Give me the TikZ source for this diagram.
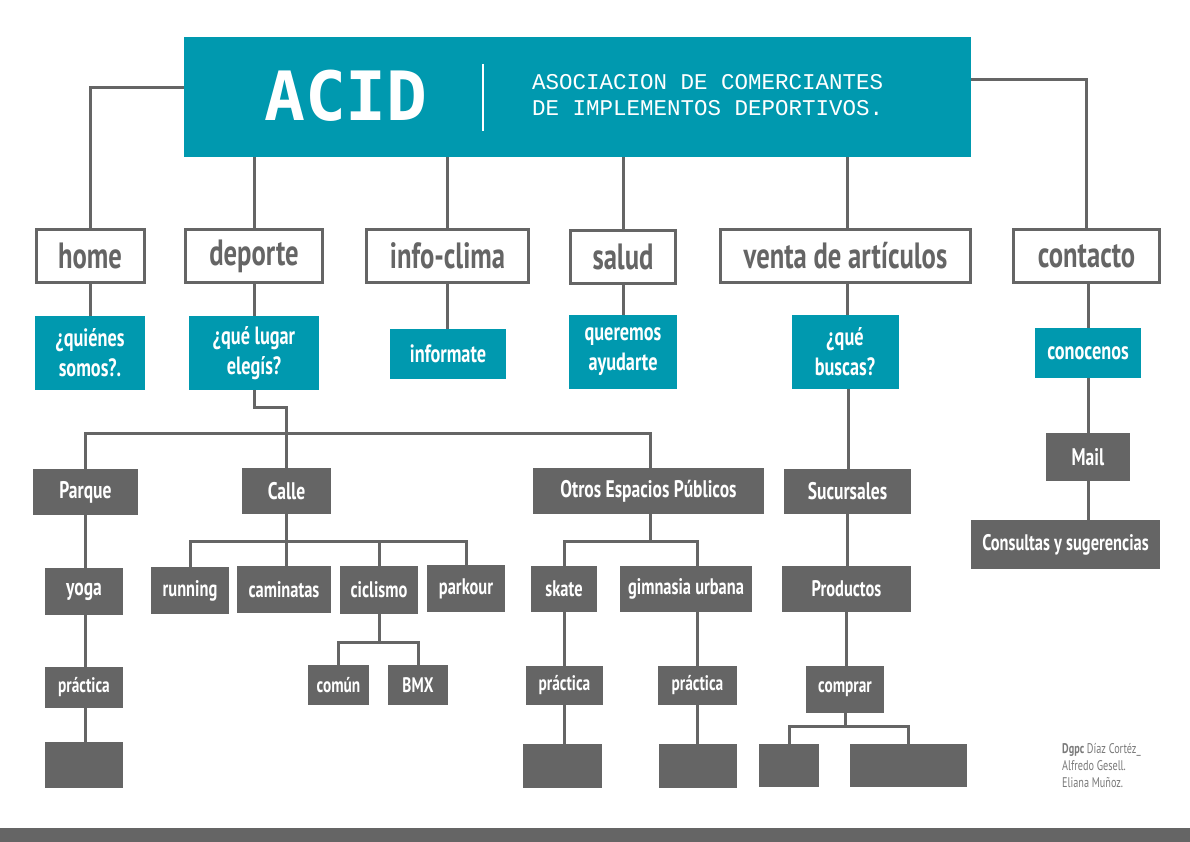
\documentclass[tikz,border=0pt]{standalone}
\usepackage{fontspec}
\setmainfont{PT Sans}[FakeStretch=0.73]
\newfontfamily\acidfont{DejaVu Sans Mono}
\newfontfamily\subfont{Liberation Mono}
\definecolor{acidteal}{HTML}{0099AF}
\definecolor{acidgray}{HTML}{656565}
\definecolor{credgray}{HTML}{7A7A7A}
\tikzset{
  sz/.style 2 args={minimum width=#1pt, minimum height=#2pt},
  wbox/.style={draw=acidgray, line width=3pt, fill=white, text=acidgray, inner sep=0pt,
    font=\fontsize{36.5}{38}\selectfont\bfseries},
  tbox/.style={fill=acidteal, text=white, inner sep=0pt, align=center,
    font=\fontsize{25}{30}\selectfont\bfseries},
  gbox/.style={fill=acidgray, text=white, inner sep=0pt, align=center,
    font=\fontsize{24}{26}\selectfont\bfseries},
  mgbox/.style={gbox, font=\fontsize{22.5}{24}\selectfont\bfseries},
  sgbox/.style={gbox, font=\fontsize{21}{22}\selectfont\bfseries},
  conn/.style={draw=acidgray, line width=3pt}
}
\begin{document}
\begin{tikzpicture}[x=1pt,y=-1pt]
\useasboundingbox (0,0) rectangle (1190,842);
\fill[white] (0,0) rectangle (1190,842);

% header
\node[fill=acidteal, sz={787}{120}, inner sep=0pt] (head) at (577.5,97) {};
\node[text=white, font=\acidfont\bfseries\fontsize{68}{68}\selectfont, inner sep=0pt] (acid) at (346,96) {ACID};
\draw[white, line width=2.5pt] (483,64) -- (483,131);
\node[anchor=west, align=left, text=white, inner sep=0pt,
  font=\subfont\fontsize{22.5}{26}\selectfont] (sub) at (532,95)
  {ASOCIACION DE COMERCIANTES\\DE IMPLEMENTOS DEPORTIVOS.};

% row 1
\node[wbox, sz={108}{52}] (home) at (90,256) {home};
\node[wbox, sz={137}{52}] (deporte) at (254,256) {deporte};
\node[wbox, sz={162}{52}] (clima) at (447.5,256) {info-clima};
\node[wbox, sz={105}{53}] (salud) at (623,257) {salud};
\node[wbox, sz={250}{52}] (venta) at (845.5,256) {venta de artículos};
\node[wbox, sz={146}{52}] (contacto) at (1086.5,256) {contacto};

% row 2
\node[tbox, sz={110}{74}] (quienes) at (90,353) {¿quiénes\\somos?.};
\node[tbox, sz={130}{74}] (lugar) at (254,353) {¿qué lugar\\elegís?};
\node[tbox, sz={116}{50}] (informate) at (448,354) {informate};
\node[tbox, sz={108}{74}] (queremos) at (623,352) {queremos\\ayudarte};
\node[tbox, sz={107}{74}] (buscas) at (845,352) {¿qué\\buscas?};
\node[tbox, sz={106}{50}] (conocenos) at (1088,353) {conocenos};

% row 3
\node[gbox, sz={105}{46}] (parque) at (85.5,492) {Parque};
\node[gbox, sz={89}{46}] (calle) at (286.5,491) {Calle};
\node[gbox, sz={231}{46}] (otros) at (648.5,491) {Otros Espacios Públicos};
\node[gbox, sz={127}{45}] (sucursales) at (847.5,491.5) {Sucursales};
\node[gbox, sz={84}{48}] (mail) at (1088,457) {Mail};
\node[mgbox, sz={189}{49}] (consultas) at (1065.5,544.5) {Consultas y sugerencias};

% row 4
\node[gbox, sz={78}{47}] (yoga) at (84,591.5) {yoga};
\node[mgbox, sz={78}{47}] (running) at (190,590.5) {running};
\node[mgbox, sz={94}{47}] (caminatas) at (284,589.5) {caminatas};
\node[mgbox, sz={78}{48}] (ciclismo) at (379,590) {ciclismo};
\node[mgbox, sz={78}{47}] (parkour) at (466,588.5) {parkour};
\node[mgbox, sz={66}{46}] (skate) at (564,589) {skate};
\node[mgbox, sz={132}{46}] (gimnasia) at (686,589) {gimnasia urbana};
\node[mgbox, sz={129}{46}] (productos) at (846.5,589) {Productos};

% row 5
\node[sgbox, sz={78}{41}] (practica1) at (84,687.5) {práctica};
\node[sgbox, sz={61}{40}] (comun) at (338.5,685) {común};
\node[sgbox, sz={60}{40}] (bmx) at (418,685) {BMX};
\node[sgbox, sz={77}{39}] (practica2) at (564.5,685.5) {práctica};
\node[sgbox, sz={79}{39}] (practica3) at (697.5,685.5) {práctica};
\node[sgbox, sz={78}{47}] (comprar) at (845,689.5) {comprar};

% row 6 (empty boxes)
\node[gbox, sz={78}{46}] (e1) at (84,765) {};
\node[gbox, sz={79}{44}] (e2) at (562.5,766) {};
\node[gbox, sz={78}{44}] (e3) at (698,766) {};
\node[gbox, sz={60}{43}] (e4) at (789,765.5) {};
\node[gbox, sz={117}{43}] (e5) at (908.5,765.5) {};

% bus coordinates
\coordinate (b1) at (0,433);
\coordinate (b2) at (0,541);
\coordinate (b3) at (0,642);
\coordinate (b4) at (0,726);
\coordinate (j1) at (0,407);

% connectors from header
\draw[conn] ([yshift=9pt]head.west) -| (home.north);
\draw[conn] ([yshift=17pt]head.east) -| (contacto.north);
\draw[conn] (deporte.north) -- (deporte.north |- head.south);
\draw[conn] (clima.north) -- (clima.north |- head.south);
\draw[conn] (salud.north) -- (salud.north |- head.south);
\draw[conn] ([xshift=2pt]venta.north) -- ([xshift=2pt]venta.north |- head.south);

% row1 -> row2
\draw[conn] (home.south) -- (home.south |- quienes.north);
\draw[conn] (deporte.south) -- (deporte.south |- lugar.north);
\draw[conn] (clima.south) -- (clima.south |- informate.north);
\draw[conn] (salud.south) -- (salud.south |- queremos.north);
\draw[conn] ([xshift=2pt]venta.south) -- ([xshift=2pt]venta.south |- buscas.north);
\draw[conn] (contacto.south -| conocenos.north) -- (conocenos.north);

% deporte subtree
\draw[conn] (lugar.south) -- (lugar.south |- j1) -- (calle.north |- j1) -- (calle.north);
\draw[conn] (parque.north) -- (parque.north |- b1) -- ([xshift=2pt]otros.north |- b1) -- ([xshift=2pt]otros.north);
\draw[conn] (parque.south) -- (parque.south |- yoga.north);
\draw[conn] (parque.south |- yoga.south) -- (parque.south |- practica1.north);
\draw[conn] (parque.south |- practica1.south) -- (parque.south |- e1.north);

% calle subtree
\draw[conn] (calle.south) -- (calle.south |- caminatas.north);
\draw[conn] (running.north) -- (running.north |- b2) -- (parkour.north |- b2) -- (parkour.north);
\draw[conn] (ciclismo.north) -- (ciclismo.north |- b2);
\draw[conn] (ciclismo.south) -- (ciclismo.south |- b3);
\draw[conn] (comun.north) -- (comun.north |- b3) -- (bmx.north |- b3) -- (bmx.north);

% otros subtree
\draw[conn] ([xshift=2pt]otros.south) -- ([xshift=2pt]otros.south |- b2);
\draw[conn] (skate.north) -- (skate.north |- b2) -- (practica3.north |- b2) -- (practica3.north |- gimnasia.north);
\draw[conn] (skate.south) -- (skate.south |- practica2.north);
\draw[conn] (skate.south |- practica2.south) -- (skate.south |- e2.north);
\draw[conn] (practica3.north |- gimnasia.south) -- (practica3.north);
\draw[conn] (practica3.south) -- (practica3.south |- e3.north);

% venta subtree
\draw[conn] ([xshift=3pt]buscas.south) -- ([xshift=3pt]buscas.south |- sucursales.north);
\draw[conn] (sucursales.south) -- (sucursales.south |- productos.north);
\draw[conn] (productos.south) -- (productos.south |- comprar.north);
\draw[conn] (comprar.south) -- (comprar.south |- b4);
\draw[conn] (e4.north) -- (e4.north |- b4) -- (e5.north |- b4) -- (e5.north);

% contacto subtree
\draw[conn] (conocenos.south) -- (mail.north);
\draw[conn] (mail.south) -- (mail.south |- consultas.north);

% credits
\node[anchor=north west, align=left, inner sep=0pt, text=credgray,
  font=\fontsize{14}{17}\selectfont] (cred) at (1062,743)
  {\textbf{Dgpc} Díaz Cortéz\_\\Alfredo Gesell.\\Eliana Muñoz.};

% bottom bar
\node[fill=acidgray, sz={1190}{14}, inner sep=0pt] (bar) at (595,835) {};
\end{tikzpicture}
\end{document}
